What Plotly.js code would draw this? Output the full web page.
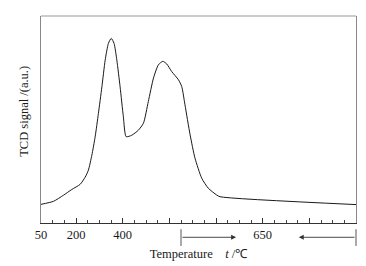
<!DOCTYPE html>
<html>
<head>
<meta charset="utf-8">
<script src="https://cdn.plot.ly/plotly-3.0.1.min.js"></script>
<style>html,body{margin:0;padding:0;background:#fff;}#chart{width:366px;height:266px;}</style>
</head>
<body>
<div id="chart"></div>
<script>
// Scan coordinate: linear ramp 50 -> 650 °C, then isothermal hold at 650 °C (coordinate 650 -> 1400)
const scanPos = [50, 104, 146, 182, 218, 239, 253, 268, 282, 296, 311, 325, 339, 351, 363, 375, 389, 403, 415, 439, 467, 489, 510, 532, 553, 572, 589, 610, 639, 653, 667, 689, 710, 739, 767, 803, 817, 1400];
const tcdSignal = [9.0, 10.5, 13.4, 16.2, 18.7, 22.1, 25.5, 32.8, 41.6, 52.9, 65.8, 78.7, 86.8, 89.2, 86.8, 78.7, 65.8, 51.3, 41.7, 42.4, 44.8, 48.2, 58.7, 70.0, 76.4, 78.1, 76.8, 73.2, 69.2, 66.0, 57.1, 42.6, 31.3, 21.6, 16.8, 13.5, 12.7, 8.9];
const tickPositions = [50, 200, 400, 600, 800, 1000, 1200, 1400];
const tickLabels = ["50", "200", "400", "", "", "650", "", ""];
const holdStart = 650, holdEnd = 1400, arrowRightTip = 886, arrowLeftTip = 1155;
const yTitle = 'TCD signal /(a.u.)';
const xTitle = 'Temperature\u00a0\u00a0\u00a0\u00a0<i>t</i> /\u2103';

const xRange = [50, 1400];
const px = v => (v - xRange[0]) / (xRange[1] - xRange[0]);
const FS = 12.5;

const trace = {
  x: scanPos, y: tcdSignal, type: 'scatter', mode: 'lines',
  line: {color: '#1a1a1a', width: 1, shape: 'spline', smoothing: 0.6},
  hoverinfo: 'skip'
};

const layout = {
  width: 366, height: 266,
  margin: {l: 41, r: 10, t: 16, b: 43},
  paper_bgcolor: '#fff', plot_bgcolor: '#fff',
  font: {family: '"Liberation Serif", "Times New Roman", serif', size: FS, color: '#1a1a1a'},
  showlegend: false,
  xaxis: {
    range: xRange, showgrid: false, zeroline: false,
    showline: true, linecolor: '#333', linewidth: 1,
    tickmode: 'array', tickvals: tickPositions, ticktext: tickLabels,
    ticks: 'inside', ticklen: 5, tickcolor: '#333', tickwidth: 1,
    minor: {tickmode: 'linear', tick0: 50, dtick: 50, ticks: 'inside', ticklen: 3, tickcolor: '#444', tickwidth: 1},
    tickfont: {size: FS, color: '#1a1a1a'},
    title: {text: xTitle, font: {size: FS, color: '#1a1a1a'}, standoff: 8}
  },
  yaxis: {
    range: [0, 100], showgrid: false, zeroline: false,
    showline: true, linecolor: '#888', linewidth: 1, mirror: true,
    showticklabels: false, ticks: ''
  },
  shapes: [
    {type: 'line', xref: 'paper', yref: 'paper', x0: 0, x1: 1, y0: 1, y1: 1, line: {color: '#999', width: 1}},
    {type: 'line', xref: 'paper', yref: 'paper', x0: px(holdStart), x1: px(holdStart), y0: -0.030, y1: -0.111, line: {color: '#555', width: 1}},
    {type: 'line', xref: 'paper', yref: 'paper', x0: px(holdEnd), x1: px(holdEnd), y0: -0.030, y1: -0.111, line: {color: '#555', width: 1}}
  ],
  annotations: [
    {xref: 'paper', yref: 'paper', x: -0.054, y: 0.542, xanchor: 'center', yanchor: 'middle',
     text: yTitle, textangle: -90, showarrow: false, font: {size: FS, color: '#1a1a1a'}},
    {xref: 'x', yref: 'paper', x: arrowRightTip, y: -0.069, axref: 'x', ayref: 'pixel', ax: holdStart, ay: 0,
     text: '', showarrow: true, arrowhead: 2, arrowsize: 1.1, arrowwidth: 0.9, arrowcolor: '#333'},
    {xref: 'x', yref: 'paper', x: arrowLeftTip, y: -0.069, axref: 'x', ayref: 'pixel', ax: holdEnd, ay: 0,
     text: '', showarrow: true, arrowhead: 2, arrowsize: 1.1, arrowwidth: 0.9, arrowcolor: '#333'}
  ]
};

Plotly.newPlot('chart', [trace], layout, {staticPlot: true, displayModeBar: false});
</script>
</body>
</html>
